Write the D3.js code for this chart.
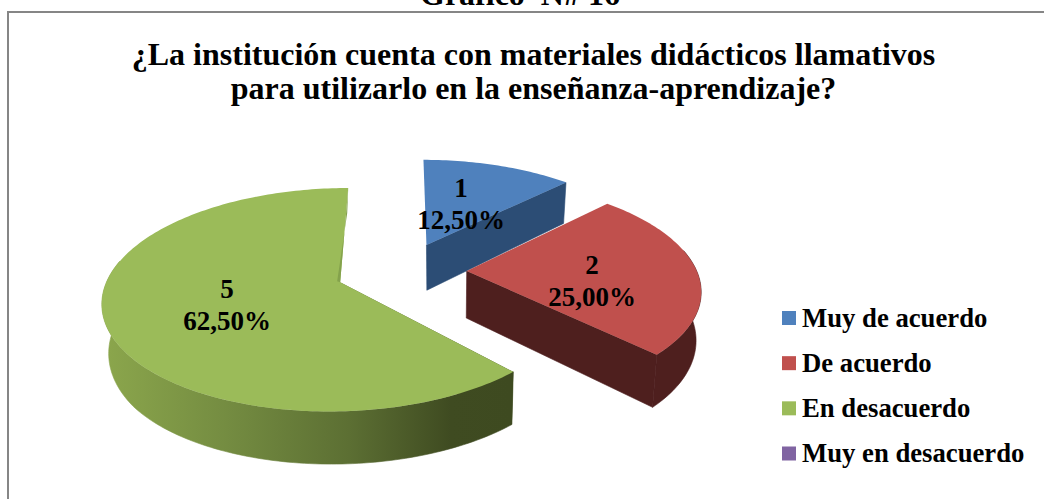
<!DOCTYPE html>
<html><head><meta charset="utf-8">
<script src="https://cdn.jsdelivr.net/npm/d3@7"></script>
<style>html,body{margin:0;padding:0;background:#fff;overflow:hidden}svg{display:block}text{font-family:"Liberation Serif",serif;font-weight:bold;fill:#000}</style>
</head><body><svg id="c" width="1044" height="499"></svg>
<script>
const legendNames = ["Muy de acuerdo","De acuerdo","En desacuerdo","Muy en desacuerdo"];
const values = [12.5,25,62.5,0];
const sliceLabels = ["1","2","5"];
const percentLabels = ["12,50%","25,00%","62,50%"];
const topColors = ["#4f81bd","#c0504d","#9bbb59","#8064a2"];
const sideColors = ["#2c4d75","#4e1f1e","url(#greenSide)"];
const titleLines = ["¿La institución cuenta con materiales didácticos llamativos","para utilizarlo en la enseñanza-aprendizaje?"];
const heading = "Gráfico  N# 16";

const svg = d3.select("#c");
const defs = svg.append("defs");
const g = defs.append("linearGradient").attr("id","greenSide").attr("gradientUnits","userSpaceOnUse")
  .attr("x1",105).attr("x2",512).attr("y1",0).attr("y2",0);
[[0,"#8ba64c"],[.3,"#748c41"],[.6,"#5c6f33"],[.85,"#3f4b21"],[1,"#3e4a20"]].forEach(s=>g.append("stop").attr("offset",s[0]).attr("stop-color",s[1]));

svg.append("rect").attr("x",8).attr("y",12).attr("width",1060).attr("height",520)
  .attr("fill","#fff").attr("stroke","#868686").attr("stroke-width",2);
svg.append("text").attr("x",520).attr("y",5).attr("text-anchor","middle").attr("font-size",32).attr("xml:space","preserve").text(heading);
titleLines.forEach((t,i)=>svg.append("text").attr("x",533.5).attr("y",65+i*34).attr("text-anchor","middle").attr("font-size",32).text(t));

// perspective pie
const cx=403, cy=271, R=230, Ry=105.5, K=0.153, EXPL=0.277, D=47;
const nudge=[0,0,-3], startTrim=[0,0,0.03];
const pie = d3.pie().sort(null).value(d=>d).startAngle(0).endAngle(2*Math.PI);
const arcs = pie(values).slice(0,3);
function pt(a,t,mid,i){
  const s=Math.sin(mid)*EXPL+Math.sin(a)*t, p=Math.cos(mid)*EXPL+Math.cos(a)*t, w=1/(1+K*p);
  return {x:cx+nudge[i]+R*s*w,y:cy-Ry*p*w,w};
}
function low(q){const d=D*Math.min(q.w,1.12);return {x:q.x+(445-q.x)*0.02,y:q.y+d};}
const line = d3.line().x(d=>d.x).y(d=>d.y);
function sample(a0,a1){const n=Math.max(2,Math.ceil((a1-a0)/0.02));return d3.range(n+1).map(i=>a0+(a1-a0)*i/n);}
const frontMin=Math.PI/2-0.2, frontMax=3*Math.PI/2+0.2;

const layer = svg.append("g");
[2,0,1].forEach(i=>{
  const d=arcs[i], mid=(d.startAngle+d.endAngle)/2, a0=d.startAngle+startTrim[i];
  const rim=sample(a0,d.endAngle).map(a=>pt(a,1,mid,i));
  const apex=pt(0,0,mid,i);
  const first=rim[0], last=rim[rim.length-1];
  const lo=Math.max(a0,frontMin), hi=Math.min(d.endAngle,frontMax);
  if(hi>lo){
    const fr=sample(lo,hi).map(a=>pt(a,1,mid,i));
    layer.append("path").attr("d",line(fr.concat(fr.map(low).reverse()))+"Z").attr("fill",sideColors[i]).attr("stroke",sideColors[i]).attr("stroke-width",0.6);
  }
  if(i<2){
    layer.append("path").attr("d",line([apex,last,low(last),low(apex)])+"Z").attr("fill",sideColors[i]).attr("stroke",sideColors[i]).attr("stroke-width",0.6);
  } else {
    layer.append("path").attr("d",line([apex,first,low(first),low(apex)])+"Z").attr("fill",sideColors[i]);
  }
  layer.append("path").attr("d",line([apex].concat(rim))+"Z").attr("fill",topColors[i]);
  if(i===2){
    layer.append("path").attr("d",line([last,apex,{x:apex.x-3,y:apex.y-1},{x:last.x-1,y:last.y+25}])+"Z").attr("fill","#84a24c");
  }
});

// data labels
const labelT=[0.45,0.545,0.5], labelDy=[5,18,9];
arcs.forEach((d,i)=>{
  const mid=(d.startAngle+d.endAngle)/2, q=pt(mid,labelT[i],mid,i);
  const t=svg.append("text").attr("text-anchor","middle").attr("font-size",27);
  t.append("tspan").attr("x",q.x).attr("y",q.y+labelDy[i]-15).text(sliceLabels[i]);
  t.append("tspan").attr("x",q.x).attr("y",q.y+labelDy[i]+17).text(percentLabels[i]);
});

// legend
const ly=d3.scalePoint().domain(legendNames).range([318,453.5]);
legendNames.forEach((n,i)=>{
  svg.append("rect").attr("x",782).attr("y",ly(n)-7).attr("width",14).attr("height",14).attr("fill",topColors[i]);
  svg.append("text").attr("x",802).attr("y",ly(n)+8.5).attr("font-size",26.7).text(n);
});
</script></body></html>
